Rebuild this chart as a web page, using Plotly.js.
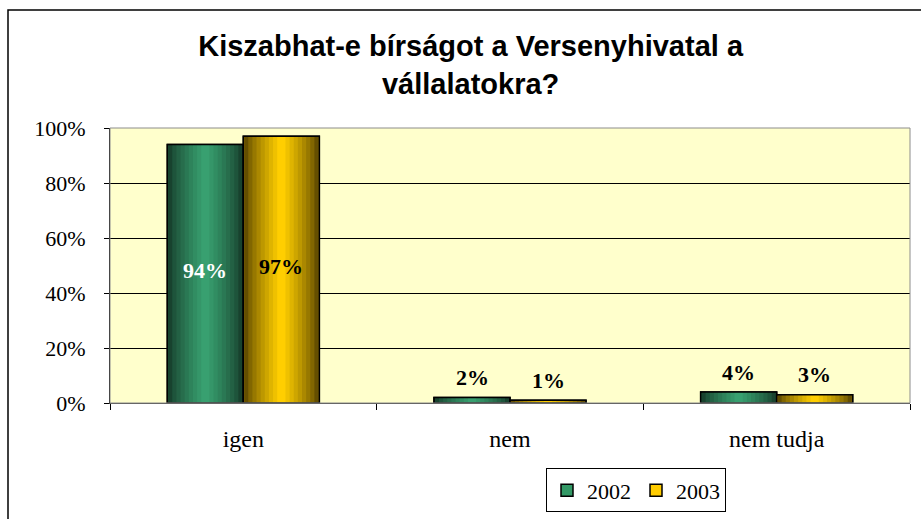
<!DOCTYPE html>
<html>
<head>
<meta charset="utf-8">
<script src="https://cdn.plot.ly/plotly-3.0.1.min.js"></script>
<style>html,body{margin:0;padding:0;background:#fff;}#chart{width:921px;height:519px;}</style>
</head>
<body>
<div id="chart"></div>
<script>
// ---- data ----
const categories = ["igen", "nem", "nem tudja"];
const seriesNames = ["2002", "2003"];
const values2002 = [0.94, 0.02, 0.04];
const values2003 = [0.97, 0.01, 0.03];
const chartTitle = "Kiszabhat-e bírságot a Versenyhivatal a<br>vállalatokra?";

// ---- styling ----
const W = 0.285;              // bar width in category units
const series = [
  {name: seriesNames[0], y: values2002, offset: -W, edge: [24, 66, 46], center: [56, 160, 112], mid: "#339966", inText: "#ffffff"},
  {name: seriesNames[1], y: values2003, offset: 0,  edge: [100, 78, 0],  center: [255, 206, 0],  mid: "#FFCC00", inText: "#000000"}
];
const serif = "Liberation Serif";
const sans = "Liberation Sans";

function rgb(c){ return "rgb(" + c.map(v => Math.round(v)).join(",") + ")"; }
function mix(a, b, t){ return [0,1,2].map(i => a[i] + (b[i]-a[i]) * t); }

const traces = [];
const N = 9;
series.forEach(s => {
  traces.push({
    type: "bar", x: categories, y: s.y, name: s.name, width: W, offset: s.offset,
    marker: {color: s.mid, line: {color: "#000", width: 1.5}},
    hoverinfo: "skip", showlegend: true
  });
  for (let k = 0; k < N; k++) {
    const frac = 1 - k / N;
    const sw = (W - 0.006) * frac;
    const t = k / (N - 1);
    traces.push({
      type: "bar", x: categories, y: s.y, width: sw, offset: s.offset + (W - sw) / 2,
      marker: {color: rgb(mix(s.edge, s.center, Math.pow(t, 0.8))), line: {width: 0}},
      hoverinfo: "skip", showlegend: false
    });
  }
  traces.push({
    type: "bar", x: categories, y: s.y, width: W, offset: s.offset,
    marker: {color: "rgba(0,0,0,0)", line: {color: "#000", width: 1.5}},
    hoverinfo: "skip", showlegend: false
  });
});

const annotations = [];
series.forEach(s => {
  s.y.forEach((v, j) => {
    const inside = v > 0.1;
    annotations.push({
      x: j + s.offset + W / 2, y: inside ? v / 2 : v, xref: "x", yref: "y",
      text: "<b>" + Math.round(v * 100) + "%</b>", showarrow: false,
      yshift: inside ? 3 : 20, yanchor: "middle",
      font: {family: serif, size: 22, color: inside ? s.inText : "#000"}
    });
  });
});

const layout = {
  width: 921, height: 519,
  margin: {l: 110, r: 11, t: 128, b: 116, autoexpand: false},
  paper_bgcolor: "#ffffff", plot_bgcolor: "#FFFFCC",
  barmode: "overlay",
  font: {family: serif, color: "#000"},
  title: {text: "<b>" + chartTitle.replace("<br>", "</b><br><b>") + "</b>", x: 0.511, xanchor: "center", y: 0.892, yanchor: "top",
          font: {family: sans, size: 29, color: "#000"}},
  xaxis: {
    type: "category", range: [-0.5, 2.5], tickson: "boundaries", automargin: false,
    ticks: "outside", ticklen: 6, tickcolor: "#000", showgrid: false,
    showline: true, linecolor: "#404040", linewidth: 1,
    tickfont: {family: serif, size: 24, color: "#000"}, ticklabelstandoff: 14,
    fixedrange: true
  },
  yaxis: {
    range: [0, 1], dtick: 0.2, tickformat: ".0%", automargin: false,
    ticks: "outside", ticklen: 5, tickcolor: "#000",
    showgrid: true, gridcolor: "#000", gridwidth: 1, zeroline: false,
    showline: true, linecolor: "#000", linewidth: 1,
    tickfont: {family: serif, size: 22, color: "#000"}, ticklabelstandoff: 14,
    fixedrange: true
  },
  legend: {
    orientation: "h", x: 0.6575, xanchor: "center", y: -0.238, yanchor: "top",
    bordercolor: "#000", borderwidth: 1, bgcolor: "#fff",
    font: {family: serif, size: 22, color: "#000"}, traceorder: "normal",
    itemwidth: 30
  },
  shapes: [
    {type: "rect", xref: "paper", yref: "paper", x0: 0, x1: 1, y0: 0, y1: 1,
     line: {color: "#8c8c8c", width: 1}, fillcolor: "rgba(0,0,0,0)", layer: "above"},
    {type: "rect", xref: "paper", yref: "paper", x0: -0.1275, x1: 1.02, y0: -0.45, y1: 1.429,
     line: {color: "#000", width: 1.5}, fillcolor: "rgba(0,0,0,0)"}
  ],
  annotations: annotations,
  showlegend: true
};

Plotly.newPlot("chart", traces, layout, {displayModeBar: false, staticPlot: true});
</script>
</body>
</html>
